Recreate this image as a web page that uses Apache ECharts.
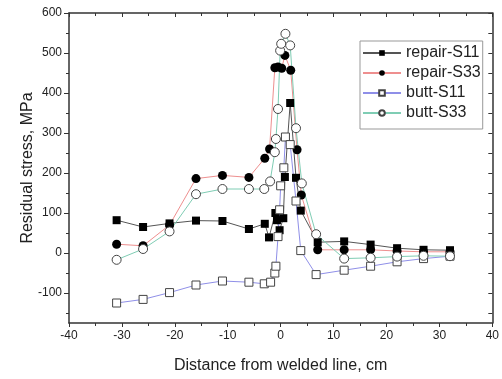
<!DOCTYPE html>
<html>
<head>
<meta charset="utf-8">
<script src="https://cdn.jsdelivr.net/npm/echarts@6/dist/echarts.min.js"></script>
<style>
html,body{margin:0;padding:0;background:#fff;}
#chart{width:502px;height:379px;}
</style>
</head>
<body>
<div id="chart"></div>
<script>
// distance from welded line (cm) and residual stress (MPa)
var repairS11X = [-31, -26, -21, -16, -11, -6, -3, -2.2, -1, -0.7, -0.2, 0.5, 0.8, 1.8, 2.9, 3.8, 7, 12, 17, 22, 27, 32];
var repairS11Y = [82, 65, 74, 81, 80, 60, 73, 39, 100, 82, 57, 87, 190, 375, 188, 106, 27, 29, 21, 12, 8, 7];

var repairS33X = [-31, -26, -21, -16, -11, -6, -3, -2.1, -1.1, -0.5, 0.2, 0.8, 1.9, 3.1, 3.9, 7, 12, 17, 22, 27, 32];
var repairS33Y = [22, 18, 70, 186, 194, 189, 237, 260, 463, 465, 462, 494, 457, 258, 145, 8, 8, 8, 5, 3, 3];

var buttS11X = [-31, -26, -21, -16, -11, -6, -3.1, -1.9, -1.1, -0.9, -0.5, -0.2, 0, 0.6, 0.9, 1.8, 2.9, 3.8, 6.7, 12, 17, 22, 27, 32];
var buttS11Y = [-125, -116, -99, -80, -70, -73, -77, -73, -50, -33, 41, 108, 168, 213, 290, 271, 130, 6, -54, -43, -33, -22, -14, -8];

var buttS33X = [-31, -26, -21, -16, -11, -6, -3.1, -2, -1.1, -0.9, -0.5, -0.1, 0.1, 0.9, 1.8, 2.9, 4, 6.7, 12, 17, 22, 27, 32];
var buttS33Y = [-17, 10, 54, 147, 160, 160, 160, 179, 252, 285, 360, 506, 523, 548, 519, 312, 174, 47, -14, -12, -9, -7, -8];

var seriesNames = ['repair-S11', 'repair-S33', 'butt-S11', 'butt-S33'];
var yMajor = [-100, 0, 100, 200, 300, 400, 500, 600];
var yMinor = [-150, -50, 50, 150, 250, 350, 450, 550];

function pairs(xs, ys){
	var out = [];
	for(var i=0;i<xs.length;i++){
		out.push([xs[i], ys[i]]);
	}
	return out;
}

var chart = echarts.init(document.getElementById('chart'));
var font = 'Liberation Sans, Arial, sans-serif';
var axisColor = '#333';

var option = {
	animation: false,
	backgroundColor: '#fff',
	textStyle: { fontFamily: font },
	grid: { left: 69, right: 7, top: 13, bottom: 54 },
	legend: {
		data: seriesNames,
		orient: 'vertical',
		left: 360,
		top: 41,
		width: 123,
		padding: [4, 2, 8, 2],
		itemWidth: 38,
		itemHeight: 7,
		itemGap: 4,
		borderColor: '#999',
		borderWidth: 1,
		backgroundColor: '#fff',
		textStyle: { fontFamily: font, fontSize: 16, color: '#222' }
	},
	xAxis: [{
		type: 'value',
		min: -40, max: 40, interval: 10,
		name: 'Distance from welded line, cm',
		nameLocation: 'middle',
		nameGap: 35,
		nameMoveOverlap: false,
		nameTextStyle: { fontFamily: font, fontSize: 16, color: '#222' },
		axisLine: { show: true, onZero: false, lineStyle: { color: axisColor, width: 1.5 } },
		axisTick: { show: true, inside: false, length: 4, lineStyle: { color: axisColor } },
		minorTick: { show: true, splitNumber: 2, length: 3, lineStyle: { color: axisColor } },
		axisLabel: { fontFamily: font, fontSize: 12, color: '#222', margin: 7 },
		splitLine: { show: false }
	}, {
		type: 'value',
		position: 'top',
		min: -40, max: 40, interval: 10,
		axisLine: { show: true, onZero: false, lineStyle: { color: axisColor, width: 1.5 } },
		axisTick: { show: true, inside: true, length: 4, lineStyle: { color: axisColor } },
		minorTick: { show: true, splitNumber: 2, length: 3, lineStyle: { color: axisColor } },
		axisLabel: { show: false },
		splitLine: { show: false }
	}],
	yAxis: [{
		type: 'value',
		position: 'left',
		min: -175, max: 600,
		name: 'Residual stress, MPa',
		nameLocation: 'middle',
		nameGap: 33,
		nameMoveOverlap: false,
		nameTextStyle: { fontFamily: font, fontSize: 16, color: '#222' },
		axisLine: { show: true, onZero: false, lineStyle: { color: axisColor, width: 1.5 } },
		axisTick: { show: true, inside: false, length: 5, customValues: yMajor, lineStyle: { color: axisColor } },
		axisLabel: { fontFamily: font, fontSize: 12, color: '#222', margin: 7, customValues: yMajor },
		splitLine: { show: false }
	}, {
		type: 'value',
		position: 'left',
		min: -175, max: 600,
		axisLine: { show: false, onZero: false },
		axisTick: { show: true, inside: false, length: 3, customValues: yMinor, lineStyle: { color: axisColor } },
		axisLabel: { show: false },
		splitLine: { show: false }
	}, {
		type: 'value',
		position: 'right',
		min: -175, max: 600,
		axisLine: { show: true, onZero: false, lineStyle: { color: axisColor, width: 1.5 } },
		axisTick: { show: true, inside: true, length: 4, customValues: yMajor.concat(yMinor), lineStyle: { color: axisColor } },
		axisLabel: { show: false },
		splitLine: { show: false }
	}],
	series: [{
		name: seriesNames[0],
		type: 'line',
		symbol: 'rect',
		symbolSize: 8,
		data: pairs(repairS11X, repairS11Y),
		lineStyle: { color: '#555', width: 1 },
		itemStyle: { color: '#000', borderColor: '#000', borderWidth: 0 }
	}, {
		name: seriesNames[1],
		type: 'line',
		symbol: 'circle',
		symbolSize: 9,
		data: pairs(repairS33X, repairS33Y),
		lineStyle: { color: '#ee8f8f', width: 1 },
		itemStyle: { color: '#000', borderColor: '#000', borderWidth: 0 }
	}, {
		name: seriesNames[2],
		type: 'line',
		symbol: 'rect',
		symbolSize: 8,
		data: pairs(buttS11X, buttS11Y),
		lineStyle: { color: '#8f8fe8', width: 1 },
		itemStyle: { color: '#fff', borderColor: '#444', borderWidth: 1 }
	}, {
		name: seriesNames[3],
		type: 'line',
		symbol: 'circle',
		symbolSize: 9,
		data: pairs(buttS33X, buttS33Y),
		lineStyle: { color: '#7fcdb4', width: 1 },
		itemStyle: { color: '#fff', borderColor: '#444', borderWidth: 1 }
	}]
};

chart.setOption(option);
</script>
</body>
</html>
